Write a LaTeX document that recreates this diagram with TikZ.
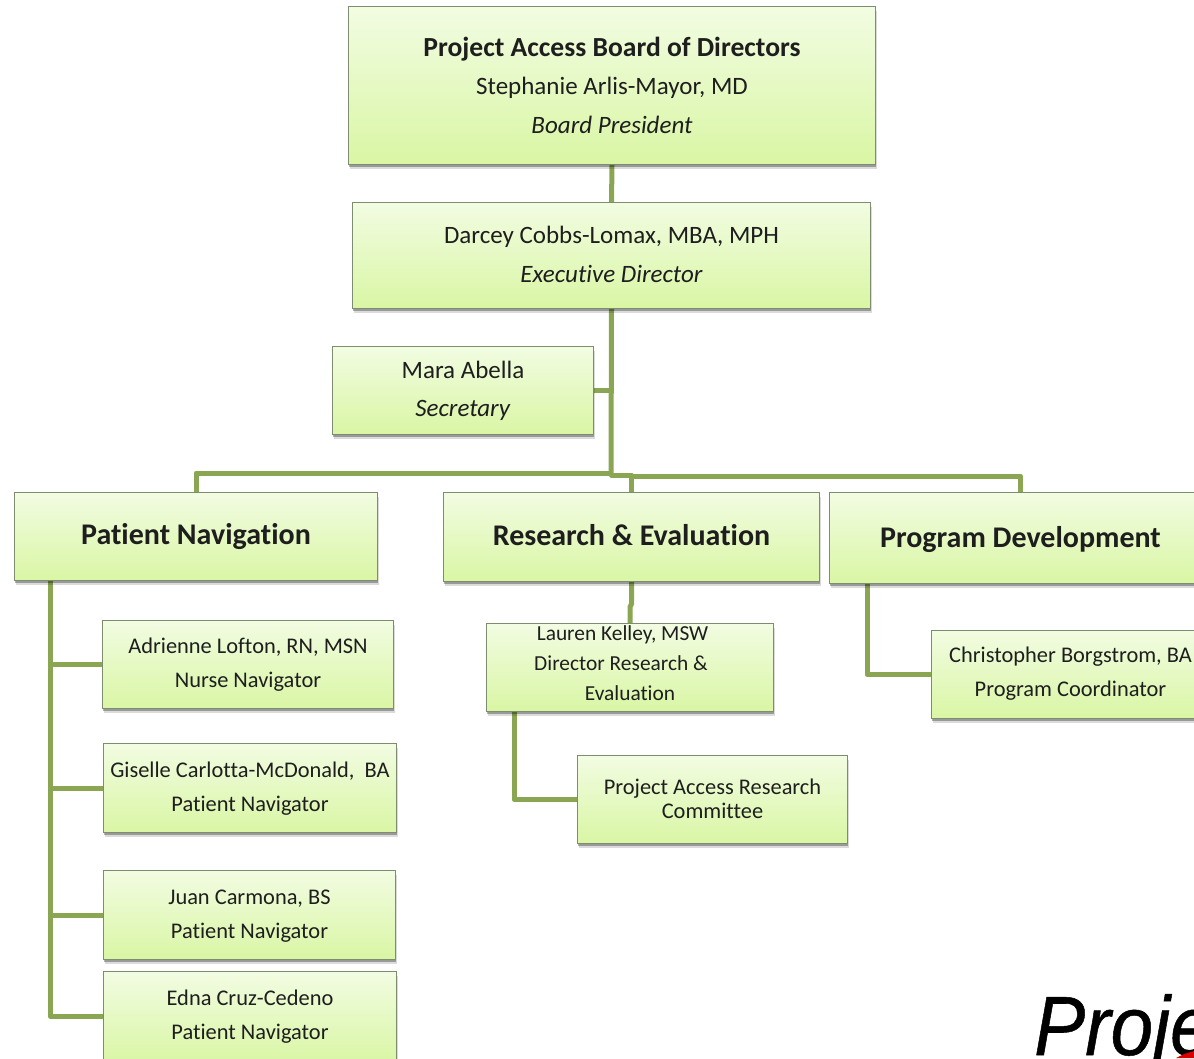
\documentclass[tikz,border=0pt]{standalone}
\usepackage{fontspec}
\setmainfont[Ligatures=NoCommon]{Carlito}
\newfontfamily\logofont[FakeStretch=0.91,FakeBold=0.6]{Liberation Sans}
\usetikzlibrary{shadows,calc}
\pgfdeclarelayer{links}
\pgfsetlayers{links,main}
\definecolor{boxedge}{HTML}{7E8C70}
\definecolor{boxtop}{HTML}{F2FCE2}
\definecolor{boxbot}{HTML}{D9F6A4}
\definecolor{link}{HTML}{8BA653}
\definecolor{ink}{HTML}{1E1E1E}
\newcommand{\lines}[2]{\raisebox{#1pt}[0pt][0pt]{\begin{tabular}[c]{@{}c@{}}#2\end{tabular}}}
\tikzset{
  x=1pt,y=-1pt,
  orgbox/.style={draw=boxedge,line width=1pt,top color=boxtop,bottom color=boxbot,
    text=ink,inner sep=0pt,anchor=north west,
    general shadow={fill=black,opacity=.14,shadow xshift=1.5pt,shadow yshift=-4pt},
    general shadow={fill=black,opacity=.30,shadow xshift=.5pt,shadow yshift=-2pt}},
  wh/.style 2 args={minimum width=#1pt,minimum height=#2pt},
  big/.style={orgbox,font=\fontsize{25}{38.5}\selectfont},
  small/.style={orgbox,font=\fontsize{22.4}{34}\selectfont},
  three/.style={orgbox,font=\fontsize{21.4}{30}\selectfont},
  tight/.style={orgbox,font=\fontsize{22.4}{24}\selectfont},
  head/.style={orgbox,font=\fontsize{30}{36}\selectfont\bfseries},
  linkline/.style={draw=link,line width=5pt,line join=round},
}
\begin{document}
\begin{tikzpicture}
\useasboundingbox (0,0) rectangle (1194,1058);
\clip (0,0) rectangle (1194,1058);

\coordinate (trunkEnd) at (611,473);
\coordinate (spineTop) at (50,581);
\coordinate (spineEnd) at (50,1016);
\coordinate (pdDrop) at (867,583);
\coordinate (lkDrop) at (514,711);

\node[big,wh={527}{158}] (board) at (348,6) {\lines{-8}{\fontsize{27.6}{38.5}\selectfont\textbf{Project Access Board of Directors}\\Stephanie Arlis-Mayor, MD\\\textit{Board President}}};
\node[big,wh={518}{106}] (exec) at (352,202) {\lines{-6}{Darcey Cobbs-Lomax, MBA, MPH\\\textit{Executive Director}}};
\node[big,wh={261}{88}] (sec) at (332,346) {\lines{-5.5}{Mara Abella\\\textit{Secretary}}};
\node[head,wh={363}{88}] (pn) at (14,492) {\lines{-7}{Patient Navigation}};
\node[head,wh={376}{89}] (re) at (443,492) {\lines{-8}{Research \& Evaluation}};
\node[head,wh={382}{91}] (pd) at (829,492) {\lines{-9}{Program Development}};
\node[small,wh={291}{88}] (al) at (102,620) {\lines{-4.5}{Adrienne Lofton, RN, MSN\\Nurse Navigator}};
\node[small,wh={293}{89}] (gc) at (103,743) {\lines{-4.5}{Giselle Carlotta-McDonald,~~BA\\Patient Navigator}};
\node[small,wh={292}{89}] (jc) at (103,870) {\lines{-4.5}{Juan Carmona, BS\\Patient Navigator}};
\node[small,wh={293}{92}] (ec) at (103,971) {\lines{-3}{Edna Cruz-Cedeno\\Patient Navigator}};
\node[three,wh={287}{88}] (lk) at (486,623) {\lines{-2}{Lauren Kelley, MSW\hspace*{15pt}\\Director Research \&\hspace*{18pt}\\Evaluation}};
\node[tight,wh={270}{88}] (rc) at (577,755) {\lines{-7}{Project Access Research\\Committee}};
\node[small,wh={278}{88}] (cb) at (931,630) {\lines{-3.5}{Christopher Borgstrom, BA\\Program Coordinator}};

\node[anchor=base west,inner sep=0pt,font=\logofont\itshape\fontsize{84}{84}\selectfont,text=black] (logo) at (1034,1055) {Proje};
\fill[red!85!black] (1176,1058) -- (1184,1054) -- (1194,1051) -- (1194,1058) -- cycle;

\begin{pgfonlayer}{links}
\draw[linkline] (board.south) -- (exec.north);
\draw[linkline] (exec.south) -- (trunkEnd);
\draw[linkline] (sec.east) -- (sec.east -| trunkEnd);
\draw[linkline] (trunkEnd) -| (pn.north);
\draw[linkline] (trunkEnd) -- ++(0,2) -| (re.north);
\draw[linkline] ($(trunkEnd)+(20,3)$) -| (pd.north);
\draw[linkline] (spineTop) -- (spineEnd) -- (spineEnd -| ec.west);
\draw[linkline] (al.west -| spineTop) -- (al.west);
\draw[linkline] (gc.west -| spineTop) -- (gc.west);
\draw[linkline] (jc.west -| spineTop) -- (jc.west);
\draw[linkline] (re.south) -- ($(re.south)+(0,22)$) -- ($(lk.north)+(0,-16)$) -- (lk.north);
\draw[linkline] (lkDrop) |- (rc.west);
\draw[linkline] (pdDrop) |- (cb.west);
\end{pgfonlayer}
\end{tikzpicture}
\end{document}
